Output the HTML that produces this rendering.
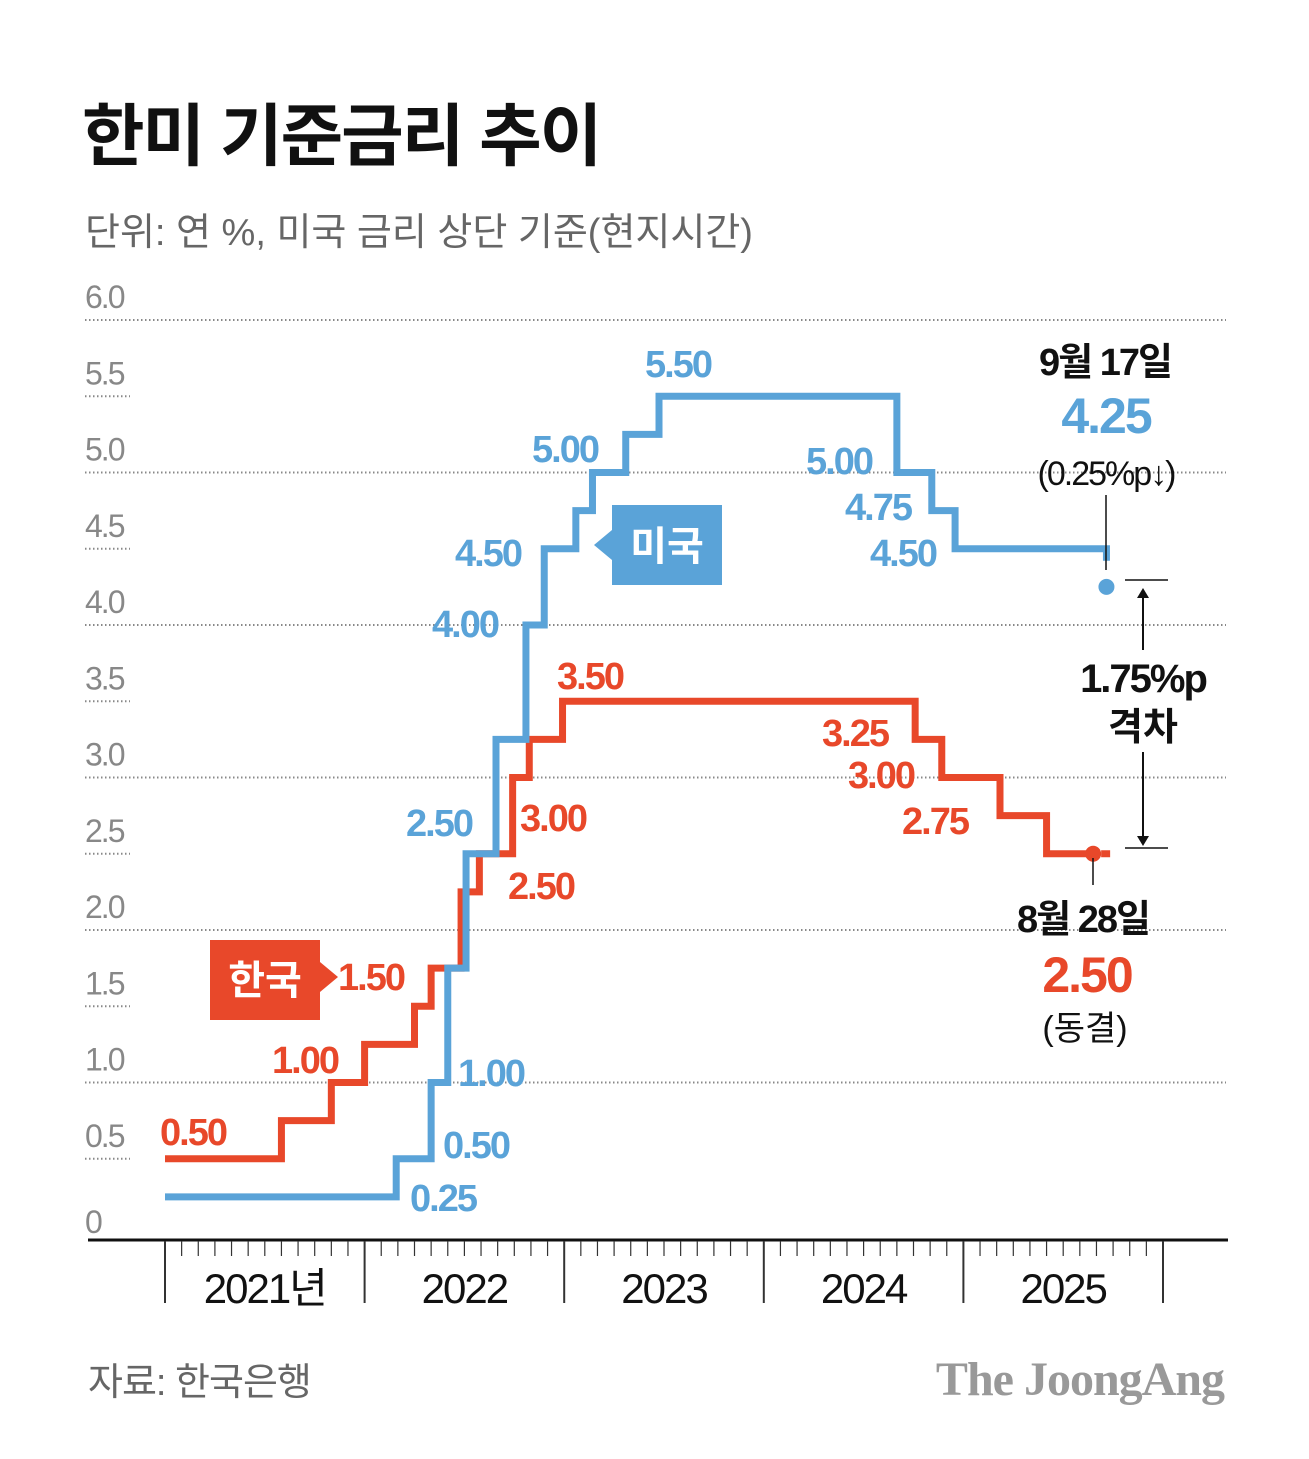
<!DOCTYPE html>
<html><head><meta charset="utf-8">
<style>
body{margin:0;background:#fff}
svg{display:block;font-family:"Liberation Sans","Noto Sans CJK KR",sans-serif}
</style></head>
<body>
<svg id="chart" width="1309" height="1459" viewBox="0 0 1309 1459" xmlns="http://www.w3.org/2000/svg">
<rect width="1309" height="1459" fill="#fff"/>
<text x="82" y="160" font-size="68" font-weight="bold" fill="#111" letter-spacing="-2">한미 기준금리 추이</text>
<text x="85" y="245" font-size="38" fill="#666" letter-spacing="0">단위: 연 %, 미국 금리 상단 기준(현지시간)</text>
<g id="grid"></g>
<g id="axis"></g>
<g id="series"></g>
<g font-size="38" font-weight="bold" letter-spacing="-2">
<g fill="#5aa3d8">
<text x="645" y="377">5.50</text><text x="532" y="462">5.00</text><text x="806" y="474">5.00</text>
<text x="845" y="520">4.75</text><text x="870" y="566">4.50</text><text x="455" y="566">4.50</text>
<text x="432" y="637">4.00</text><text x="406" y="836">2.50</text><text x="458" y="1086">1.00</text>
<text x="443" y="1158">0.50</text><text x="410" y="1211">0.25</text>
</g>
<g fill="#e8482a">
<text x="557" y="689">3.50</text><text x="822" y="746">3.25</text><text x="848" y="788">3.00</text>
<text x="902" y="834">2.75</text><text x="520" y="831">3.00</text><text x="508" y="899">2.50</text>
<text x="338" y="990">1.50</text><text x="272" y="1073">1.00</text><text x="160" y="1145">0.50</text>
</g>
</g>
<g>
<rect x="612" y="505" width="110" height="80" fill="#5aa3d8"/>
<polygon points="612,530 594,545 612,560" fill="#5aa3d8"/>
<text x="667" y="560" font-size="40" font-weight="bold" fill="#fff" text-anchor="middle">미국</text>
</g>
<g>
<rect x="210" y="940" width="110" height="80" fill="#e8482a"/>
<polygon points="320,962 338,977 320,992" fill="#e8482a"/>
<text x="265" y="994" font-size="40" font-weight="bold" fill="#fff" text-anchor="middle">한국</text>
</g>
<g text-anchor="middle">
<text x="1105" y="375" font-size="38" font-weight="bold" fill="#111" letter-spacing="-2">9월 17일</text>
<text x="1106" y="433" font-size="50" font-weight="bold" fill="#5aa3d8" letter-spacing="-2">4.25</text>
<text x="1106" y="485" font-size="34" fill="#111" letter-spacing="-2">(0.25%p↓)</text>
<line x1="1106" y1="495" x2="1106" y2="570" stroke="#111" stroke-width="1.5"/>
</g>
<g text-anchor="middle">
<line x1="1093" y1="858" x2="1093" y2="885" stroke="#111" stroke-width="1.5"/>
<text x="1083" y="932" font-size="38" font-weight="bold" fill="#111" letter-spacing="-2">8월 28일</text>
<text x="1087" y="992" font-size="50" font-weight="bold" fill="#e8482a" letter-spacing="-2">2.50</text>
<text x="1085" y="1040" font-size="34" fill="#111">(동결)</text>
</g>
<g>
<line x1="1125" y1="580" x2="1168" y2="580" stroke="#111" stroke-width="1.5"/>
<line x1="1125" y1="848" x2="1168" y2="848" stroke="#111" stroke-width="1.5"/>
<line x1="1143" y1="595" x2="1143" y2="650" stroke="#111" stroke-width="2"/>
<polygon points="1137,598 1143,588 1149,598" fill="#111"/>
<line x1="1143" y1="752" x2="1143" y2="838" stroke="#111" stroke-width="2"/>
<polygon points="1137,836 1143,846 1149,836" fill="#111"/>
<text x="1143" y="692" font-size="40" font-weight="bold" fill="#111" text-anchor="middle" letter-spacing="-2">1.75%p</text>
<text x="1143" y="740" font-size="38" font-weight="bold" fill="#111" text-anchor="middle">격차</text>
</g>
<text x="88" y="1395" font-size="38" fill="#666" letter-spacing="-1">자료: 한국은행</text>
<text x="1224" y="1395" font-size="48" font-weight="bold" fill="#999" text-anchor="end" font-family="Liberation Serif, serif" letter-spacing="-1">The JoongAng</text>
</svg>
<script>
const yTicks=[0,0.5,1,1.5,2,2.5,3,3.5,4,4.5,5,5.5,6];
const tickLabels=["0","0.5","1.0","1.5","2.0","2.5","3.0","3.5","4.0","4.5","5.0","5.5","6.0"];
const years=["2021년","2022","2023","2024","2025"];
// step change points: months since Jan 2021
const usMonths=[0,13.9,16,17,18.1,19.9,21.7,22.8,24.7,25.7,27.7,29.7,44,46.1,47.5];
const usValues=[0.25,0.5,1,1.75,2.5,3.25,4,4.5,4.75,5,5.25,5.5,5,4.75,4.5];
const usEnd=56.6;
const krMonths=[0,7,10,12,15,16,17.8,18.9,20.9,21.9,23.9,45.1,46.7,50.2,53];
const krValues=[0.5,0.75,1,1.25,1.5,1.75,2.25,2.5,3,3.25,3.5,3.25,3,2.75,2.5];
const krEnd=55.8;
const usLatest=4.25, usLatestMonth=56.6, krLatest=2.5, krLatestMonth=55.8;

const NS="http://www.w3.org/2000/svg";
const xS=m=>165+m*(199.6/12);
const yS=v=>1235-v*152.5;
function mk(tag,attrs,parent){const e=document.createElementNS(NS,tag);for(const k in attrs)e.setAttribute(k,attrs[k]);parent.appendChild(e);return e;}
const grid=document.getElementById('grid'),axis=document.getElementById('axis'),series=document.getElementById('series');
yTicks.forEach((v,i)=>{
  const y=yS(v);
  if(v>0){
    const full=(v%1===0);
    const l=mk('line',{x1:85,y1:y,x2:full?1226:130,y2:y,stroke:'#888','stroke-width':2,'stroke-dasharray':'1.5 2.5'},grid);
    
    
  }
  const t=mk('text',{x:85,y:v===0?y-2:y-12,'font-size':32,fill:'#888','letter-spacing':'-2'},grid);
  t.textContent=tickLabels[i];
  
  
});
const base=mk('line',{x1:88,y1:1240,x2:1228,y2:1240,stroke:'#111','stroke-width':3},axis);


for(let m=0;m<=60;m++){
  const x=xS(m);const major=m%12===0;
  const tk=mk('line',{x1:x,y1:1241,x2:x,y2:major?1303:1256,stroke:'#333','stroke-width':major?2:1.2},axis);
  
  
}
years.forEach((yr,i)=>{
  const t=mk('text',{x:xS(i*12+6),y:1303,'font-size':42,fill:'#111','text-anchor':'middle','letter-spacing':'-2'},axis);
  t.textContent=yr;
  
  
});
function stepPath(ms,vs,end){
  let d='M'+xS(ms[0])+','+yS(vs[0]);
  for(let i=1;i<ms.length;i++){d+=' H'+xS(ms[i])+' V'+yS(vs[i]);}
  d+=' H'+xS(end);return d;
}
const kr=mk('path',{d:stepPath(krMonths,krValues,krEnd),fill:'none',stroke:'#e8482a','stroke-width':7},series);


const kdash=mk('line',{x1:xS(krEnd)+8,y1:yS(krLatest),x2:xS(krEnd)+17,y2:yS(krLatest),stroke:'#e8482a','stroke-width':7},series);


const us=mk('path',{d:stepPath(usMonths,usValues,usEnd)+' V'+(yS(usValues[usValues.length-1])+12),fill:'none',stroke:'#5aa3d8','stroke-width':7},series);


const ud=mk('circle',{cx:xS(usLatestMonth),cy:yS(usLatest),r:8,fill:'#5aa3d8'},series);


const kd=mk('circle',{cx:xS(krLatestMonth),cy:yS(krLatest),r:8,fill:'#e8482a'},series);


</script>
</body></html>
